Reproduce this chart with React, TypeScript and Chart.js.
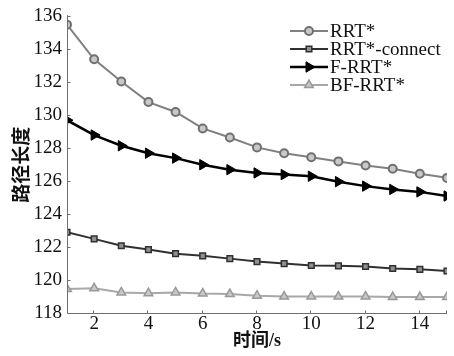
import React, { useEffect, useRef } from 'react';
import { Chart, registerables } from 'chart.js';
import { drawPoint } from 'chart.js/helpers';

Chart.register(...registerables);

const times = [1, 2, 3, 4, 5, 6, 7, 8, 9, 10, 11, 12, 13, 14, 15];
const xTicks = [2, 4, 6, 8, 10, 12, 14];
const rrtStar = [135.5, 133.4, 132.05, 130.8, 130.2, 129.2, 128.65, 128.05, 127.7, 127.45, 127.2, 126.95, 126.75, 126.45, 126.2];
const rrtConnect = [122.9, 122.5, 122.08, 121.85, 121.6, 121.47, 121.3, 121.12, 121.0, 120.88, 120.86, 120.82, 120.7, 120.65, 120.55];
const fRrtStar = [129.7, 128.8, 128.15, 127.7, 127.4, 127.0, 126.7, 126.5, 126.4, 126.3, 125.97, 125.7, 125.5, 125.35, 125.1];
const bfRrtStar = [119.45, 119.5, 119.25, 119.2, 119.25, 119.18, 119.15, 119.05, 119.0, 119.0, 119.0, 119.0, 118.97, 118.97, 118.97];
const seriesNames = ['RRT*', 'RRT*-connect', 'F-RRT*', 'BF-RRT*'];

const FONT = "'Liberation Serif', 'Noto Sans CJK SC', serif";

const framePlugin = {
  id: 'frame',
  afterDraw(chart: any) {
    const { ctx, chartArea } = chart;
    const { left, right, top, bottom } = chartArea;
    ctx.save();
    ctx.strokeStyle = '#707070';
    ctx.lineWidth = 1;
    ctx.setLineDash([]);
    const L = Math.round(left) + 0.5;
    const B = Math.round(bottom) + 0.5;
    ctx.beginPath();
    ctx.moveTo(L, Math.round(top) - 1);
    ctx.lineTo(L, B);
    ctx.lineTo(Math.round(right), B);
    ctx.stroke();
    const xs = chart.scales.x;
    const ys = chart.scales.y;
    ctx.beginPath();
    [...xTicks, 15].forEach((v) => {
      const px = Math.round(xs.getPixelForValue(v)) - 0.5;
      ctx.moveTo(px, B);
      ctx.lineTo(px, B - 3);
    });
    ys.ticks.forEach((t: any) => {
      const py = Math.round(ys.getPixelForValue(t.value)) + 0.5;
      ctx.moveTo(L, py);
      ctx.lineTo(L + 3, py);
    });
    ctx.stroke();

    // legend
    const x0 = 290;
    const x1 = 328;
    const rows = [31, 49, 67, 85];
    chart.data.datasets.forEach((ds: any, i: number) => {
      const y = rows[i];
      ctx.strokeStyle = ds.borderColor;
      ctx.lineWidth = ds.borderWidth;
      ctx.beginPath();
      ctx.moveTo(x0, y);
      ctx.lineTo(x1, y);
      ctx.stroke();
      ctx.fillStyle = ds.pointBackgroundColor;
      ctx.strokeStyle = ds.pointBorderColor;
      ctx.lineWidth = ds.pointBorderWidth;
      drawPoint(ctx, {
        pointStyle: ds.pointStyle,
        rotation: ds.pointRotation || 0,
        radius: ds.pointRadius,
        borderWidth: ds.pointBorderWidth,
      }, (x0 + x1) / 2, y);
      ctx.fillStyle = '#111';
      ctx.font = `19px ${FONT}`;
      ctx.textBaseline = 'middle';
      ctx.textAlign = 'left';
      ctx.fillText(seriesNames[i], x1 + 2, y + 1);
    });
    ctx.restore();
  },
};

export default function App() {
  const ref = useRef<HTMLCanvasElement>(null);
  useEffect(() => {
    if (!ref.current) return;
    const chart = new Chart(ref.current, {
      type: 'line',
      data: {
        labels: times,
        datasets: [
          {
            label: seriesNames[0],
            data: times.map((t, i) => ({ x: t, y: rrtStar[i] })),
            borderColor: '#808080',
            borderWidth: 2,
            pointStyle: 'circle',
            pointRadius: 4,
            pointBackgroundColor: '#c8c8c8',
            pointBorderColor: '#707070',
            pointBorderWidth: 2,
            tension: 0,
          },
          {
            label: seriesNames[1],
            data: times.map((t, i) => ({ x: t, y: rrtConnect[i] })),
            borderColor: '#303030',
            borderWidth: 2,
            pointStyle: 'rect',
            pointRadius: 4,
            pointBackgroundColor: '#909090',
            pointBorderColor: '#303030',
            pointBorderWidth: 1.5,
            tension: 0,
          },
          {
            label: seriesNames[2],
            data: times.map((t, i) => ({ x: t, y: fRrtStar[i] })),
            borderColor: '#000000',
            borderWidth: 2.5,
            pointStyle: 'triangle',
            pointRotation: 90,
            pointRadius: 6,
            pointBackgroundColor: '#000000',
            pointBorderColor: '#000000',
            pointBorderWidth: 1,
            tension: 0,
          },
          {
            label: seriesNames[3],
            data: times.map((t, i) => ({ x: t, y: bfRrtStar[i] })),
            borderColor: '#a8a8a8',
            borderWidth: 2,
            pointStyle: 'triangle',
            pointRadius: 5,
            pointBackgroundColor: '#c8c8c8',
            pointBorderColor: '#999999',
            pointBorderWidth: 1.5,
            tension: 0,
          },
        ],
      },
      options: {
        responsive: false,
        animation: false,
        layout: { padding: { left: 0, right: 4, top: 13, bottom: 0 } },
        plugins: { legend: { display: false }, tooltip: { enabled: false } },
        scales: {
          x: {
            type: 'linear',
            min: 1,
            max: 15,
            grid: { display: false, drawTicks: false },
            border: { display: false },
            afterBuildTicks: (scale: any) => {
              scale.ticks = xTicks.map((v) => ({ value: v }));
            },
            afterFit: (scale: any) => {
              scale.height = 43;
            },
            ticks: {
              color: '#111',
              font: { family: FONT, size: 19 },
              padding: 0,
              maxRotation: 0,
            },
            title: {
              display: true,
              text: '时间/s',
              color: '#111',
              font: { family: FONT, size: 18, weight: 'bold' },
              padding: { top: 0, bottom: 4 },
            },
          },
          y: {
            min: 118,
            max: 136,
            grid: { display: false, drawTicks: false },
            border: { display: false },
            ticks: {
              stepSize: 2,
              color: '#111',
              font: { family: FONT, size: 19 },
              padding: 5,
            },
            afterFit: (scale: any) => {
              scale.width = 67;
            },
            title: {
              display: true,
              text: '路径长度',
              color: '#111',
              font: { family: FONT, size: 19, weight: 'bold' },
              padding: { top: 12, bottom: 0 },
            },
          },
        },
      },
      plugins: [framePlugin],
    } as any);
    return () => chart.destroy();
  }, []);
  return (
    <div style={{ position: 'fixed', left: 0, top: 0, width: 454, height: 356, background: '#fff' }}>
      <canvas ref={ref} width={454} height={356} style={{ width: 454, height: 356 }} />
    </div>
  );
}
